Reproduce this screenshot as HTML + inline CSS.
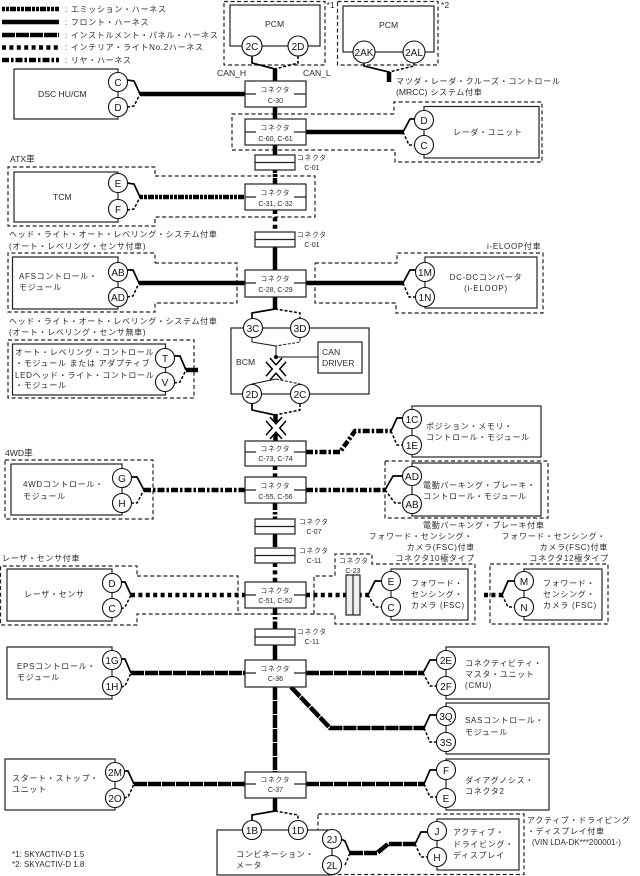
<!DOCTYPE html>
<html><head><meta charset="utf-8">
<style>
html,body{margin:0;padding:0;background:#fff}
svg{display:block}
text{font-family:"Liberation Sans","Noto Sans CJK JP",sans-serif;fill:#2a2a2a;font-size:8px;letter-spacing:.7px}
.l{font-size:8.6px;letter-spacing:0}
.n{font-size:6.6px;letter-spacing:.9px;text-anchor:middle}
.c{font-size:7px;letter-spacing:0;text-anchor:middle}
.p{font-size:10px;letter-spacing:0;text-anchor:middle;fill:#111}
.m{text-anchor:middle}
.e2{text-anchor:end}
.box{fill:#fff;stroke:#222;stroke-width:1.2}
.nf{fill:none;stroke:#222;stroke-width:1.2}
.dash{fill:none;stroke:#222;stroke-width:1.2;stroke-dasharray:4 2.6}
.f,.i,.d,.r,.e{fill:none;stroke:#000;stroke-width:4.5}
.i{stroke-dasharray:13 1}
.d{stroke-dasharray:4 3.4}
.r{stroke-dasharray:7 2 2.5 2}
.e{stroke-dasharray:3 1 3 1 6 1}
.s{fill:none;stroke:#000;stroke-width:1.7}
.sd{fill:none;stroke:#000;stroke-width:1.5;stroke-dasharray:3 1.8}
.t{fill:none;stroke:#111;stroke-width:1}
.td{fill:none;stroke:#111;stroke-width:1;stroke-dasharray:3 1.5}
circle{fill:#fff;stroke:#111;stroke-width:1.1}
.xb{stroke:#000;stroke-width:7;fill:none}
.xw{stroke:#fff;stroke-width:4;fill:none}
</style></head><body>
<svg width="640" height="876" viewBox="0 0 640 876" xmlns="http://www.w3.org/2000/svg">

<!-- dashed outlines -->
<rect class="dash" x="224" y="1.500" width="101" height="63.500"/>
<rect class="dash" x="337.500" y="1.500" width="100.500" height="63.500"/>
<polyline class="dash" points="394,114 232,114 232,150 395,150 395,162 542,162 542,102 394,102 394,114"/>
<polyline class="dash" points="155,176 315,176 315,217 155,217 155,226 8,226 8,167 155,167 155,176"/>
<polyline class="dash" points="155,263 237,263 237,303 155,303 155,312 8,312 8,253 155,253 155,263"/>
<polyline class="dash" points="315,263 397,263 397,253 543,253 543,313 396,313 396,303 315,303 315,263"/>
<rect class="dash" x="8" y="340" width="186" height="58"/>
<rect class="dash" x="5" y="460" width="148" height="59"/>
<rect class="dash" x="385" y="461" width="163" height="57"/>
<polyline class="dash" points="137,576 238,576 238,614 137,614 137,625 0.500,625 0.500,566 137,566 137,576"/>
<polyline class="dash" points="314,614 314,576 335,576 335,554 372,554 372,564 475,564 475,624 335,624 335,614 238,614"/>
<rect class="dash" x="490" y="564" width="118" height="60"/>
<rect class="dash" x="318" y="814" width="206" height="60.500"/>

<!-- solid boxes -->
<rect class="box" x="230" y="5" width="90" height="41"/>
<rect class="box" x="343" y="6" width="91" height="46"/>
<rect class="box" x="14" y="69" width="104" height="50"/>
<rect class="box" x="424" y="106.500" width="115" height="51.500"/>
<rect class="box" x="14" y="172" width="104" height="50"/>
<rect class="box" x="12.500" y="257" width="105.500" height="52"/>
<rect class="box" x="425" y="257" width="112" height="51"/>
<rect class="box" x="12.500" y="344" width="153" height="51"/>
<rect class="box" x="231" y="328" width="138" height="66"/>
<rect class="box" x="318" y="342" width="44" height="31"/>
<rect class="box" x="412" y="406" width="129" height="51"/>
<rect class="box" x="11" y="464" width="111" height="51"/>
<rect class="box" x="412" y="463" width="129" height="53"/>
<rect class="box" x="7" y="569" width="105" height="52"/>
<rect class="box" x="391" y="569" width="77" height="51"/>
<rect class="box" x="524" y="569" width="78" height="51"/>
<rect class="box" x="7" y="647" width="105" height="52"/>
<rect class="box" x="446" y="647" width="103" height="52"/>
<rect class="box" x="446" y="703" width="103" height="51"/>
<rect class="box" x="5" y="759" width="110" height="51"/>
<rect class="box" x="446" y="759" width="103" height="51"/>
<rect class="box" x="217" y="830" width="115" height="45"/>
<rect class="box" x="437" y="819" width="82" height="51"/>

<!-- legend lines -->
<line class="e" x1="2" y1="9" x2="59" y2="9"/>
<line class="f" x1="2" y1="22" x2="59" y2="22"/>
<line class="i" x1="2" y1="35" x2="59" y2="35"/>
<line class="d" x1="2" y1="47.500" x2="59" y2="47.500"/>
<line class="r" x1="2" y1="60" x2="59" y2="60"/>

<!-- spine -->
<line class="f" x1="275" y1="69" x2="275" y2="81"/>
<line class="f" x1="275" y1="107" x2="275" y2="119"/>
<line class="f" x1="275" y1="145" x2="275" y2="155"/>
<line class="e" x1="275" y1="170" x2="275" y2="184"/>
<line class="d" x1="275" y1="210" x2="275" y2="232"/>
<line class="f" x1="275" y1="247" x2="275" y2="270"/>
<line class="f" x1="275" y1="297" x2="275" y2="309"/>
<line class="f" x1="275.500" y1="415" x2="275.500" y2="441"/>
<line class="d" x1="275" y1="466" x2="275" y2="477"/>
<line class="r" x1="275" y1="503" x2="275" y2="519"/>
<line class="i" x1="275" y1="534" x2="275" y2="548"/>
<line class="d" x1="275" y1="563" x2="275" y2="582"/>
<line class="r" x1="275" y1="608" x2="275" y2="629"/>
<line class="f" x1="275" y1="645" x2="275" y2="660"/>
<line class="i" x1="275" y1="687" x2="275" y2="772"/>
<line class="i" x1="275" y1="798" x2="275" y2="811"/>
<line class="f" x1="389" y1="72" x2="389" y2="82"/>

<!-- horizontals -->
<line class="f" x1="140" y1="94" x2="245" y2="94"/>
<line class="f" x1="306" y1="132" x2="403" y2="132"/>
<line class="e" x1="140" y1="197" x2="245" y2="197"/>
<line class="f" x1="139" y1="283" x2="245" y2="283"/>
<line class="f" x1="306" y1="283" x2="403" y2="283"/>
<line class="f" x1="186" y1="370" x2="198" y2="370"/>
<polyline class="r" points="306,452 340,452 355,431 391,431"/>
<line class="r" x1="144" y1="490" x2="245" y2="490"/>
<line class="r" x1="306" y1="490" x2="385" y2="490"/>
<line class="d" x1="131" y1="595" x2="245" y2="595"/>
<line class="d" x1="306" y1="595" x2="368" y2="595"/>
<line class="d" x1="484" y1="595" x2="502" y2="595"/>
<line class="i" x1="131" y1="673" x2="245" y2="673"/>
<line class="i" x1="306" y1="673" x2="423" y2="673"/>
<polyline class="i" points="291,687 330,728 424,728"/>
<line class="i" x1="134" y1="784" x2="245" y2="784"/>
<line class="i" x1="306" y1="784" x2="424" y2="784"/>
<polyline class="i" points="350,853 377,853 388,844 415,844"/>

<!-- stubs -->
<polyline class="s" points="252,55 252,63 275,69"/><polyline class="sd" points="298,56 298,63 275,69"/>
<polyline class="s" points="364,62 364,66 389,72"/><polyline class="sd" points="414,62 414,66 389,72"/>
<polyline class="s" points="127,80 134,81 140,94"/><polyline class="sd" points="127,107 134,106 140,94"/>
<polyline class="s" points="403,132 410,119 415,119"/><polyline class="sd" points="403,132 409,145 415,145"/>
<polyline class="s" points="127,183 134,184 140,197"/><polyline class="sd" points="127,210 134,209 140,197"/>
<polyline class="s" points="127,270 133,270 139,283"/><polyline class="sd" points="127,297 133,296 139,283"/>
<polyline class="s" points="403,283 410,270 416,270"/><polyline class="sd" points="403,283 409,297 416,297"/>
<polyline class="s" points="174,356 180,356 186,370"/><polyline class="sd" points="174,383 180,382 186,370"/>
<polyline class="s" points="275,309 252,313 252,318"/><polyline class="sd" points="275,309 300,313 300,318"/>
<polyline class="t" points="252,338 252,342 276,346"/><polyline class="td" points="300,338 300,342 276,346"/>
<line class="t" x1="276" y1="346" x2="276" y2="358"/>
<line class="t" x1="276" y1="357" x2="318" y2="357"/>
<circle cx="276" cy="357" r="1.500" style="fill:#000"/>
<polyline class="t" points="276,379 252,384 252,385"/><polyline class="td" points="276,379 300,384 300,385"/>
<polyline class="s" points="252,404 252,410 275,415"/><polyline class="sd" points="300,404 300,410 275,415"/>
<polyline class="s" points="391,431 397,418 403,418"/><polyline class="sd" points="391,431 397,445 403,445"/>
<polyline class="s" points="131,477 137,477 144,490"/><polyline class="sd" points="131,503 137,503 144,490"/>
<polyline class="s" points="385,490 393,476 402,476"/><polyline class="sd" points="385,490 395,503 402,503"/>
<polyline class="s" points="121,582 125,582 131,595"/><polyline class="sd" points="121,609 125,607 131,595"/>
<polyline class="s" points="368,595 375,581 382,581"/><polyline class="sd" points="368,595 375,607 382,607"/>
<polyline class="s" points="502,595 508,581 515,581"/><polyline class="sd" points="502,595 508,607 515,607"/>
<polyline class="s" points="121,659 125,659 131,673"/><polyline class="sd" points="121,687 125,686 131,673"/>
<polyline class="s" points="423,673 430,660 437,660"/><polyline class="sd" points="423,673 430,686 437,686"/>
<polyline class="s" points="424,728 430,715 437,715"/><polyline class="sd" points="424,728 430,742 437,742"/>
<polyline class="s" points="124,771 128,771 134,784"/><polyline class="sd" points="124,798 128,797 134,784"/>
<polyline class="s" points="424,784 430,770 437,770"/><polyline class="sd" points="424,784 430,797 437,797"/>
<polyline class="s" points="275,811 252,815 252,821"/><polyline class="sd" points="275,811 298,815 298,821"/>
<polyline class="s" points="341,839 345,841 350,853"/><polyline class="sd" points="345,865 350,853"/>
<polyline class="s" points="415,844 421,832 427,832"/><polyline class="sd" points="415,844 421,857 427,857"/>

<!-- X marks -->
<path class="xb" d="M268,360 L284,378 M284,360 L268,378"/><path class="xw" d="M268,360 L284,378 M284,360 L268,378"/>
<path class="xb" d="M268,419 L284,437 M284,419 L268,437"/><path class="xw" d="M268,419 L284,437 M284,419 L268,437"/>

<!-- connector boxes -->
<g>
<rect class="box" x="245" y="81" width="61" height="26"/><path class="nf" d="M245,94h11M294,94h12"/>
<rect class="box" x="245" y="119" width="61" height="26"/><path class="nf" d="M245,132h11M294,132h12"/>
<rect class="box" x="245" y="184" width="61" height="26"/><path class="nf" d="M245,197h11M294,197h12"/>
<rect class="box" x="245" y="270" width="61" height="27"/><path class="nf" d="M245,283h11M294,283h12"/>
<rect class="box" x="245" y="441" width="61" height="25"/><path class="nf" d="M245,452h11M294,452h12"/>
<rect class="box" x="245" y="477" width="61" height="26"/><path class="nf" d="M245,490h11M294,490h12"/>
<rect class="box" x="245" y="582" width="61" height="26"/><path class="nf" d="M245,595h11M294,595h12"/>
<rect class="box" x="245" y="660" width="61" height="27"/><path class="nf" d="M245,673h11M294,673h12"/>
<rect class="box" x="245" y="772" width="61" height="26"/><path class="nf" d="M245,784h11M294,784h12"/>
</g>
<rect class="box" x="255" y="155" width="40" height="15"/><line class="nf" x1="255" y1="162.500" x2="295" y2="162.500"/>
<rect class="box" x="255" y="232" width="40" height="15"/><line class="nf" x1="255" y1="239.500" x2="295" y2="239.500"/>
<rect class="box" x="255" y="519" width="40" height="15"/><line class="nf" x1="255" y1="526.500" x2="295" y2="526.500"/>
<rect class="box" x="255" y="548" width="40" height="15"/><line class="nf" x1="255" y1="555.500" x2="295" y2="555.500"/>
<rect class="box" x="255" y="629" width="40" height="16"/><line class="nf" x1="255" y1="637" x2="295" y2="637"/>
<rect class="box" x="346" y="575" width="14" height="40" style="fill:#eee"/><line class="nf" x1="353" y1="575" x2="353" y2="615"/>

<!-- pins -->
<circle cx="252" cy="46" r="10"/><text class="p" x="252" y="50">2C</text>
<circle cx="298" cy="46" r="10"/><text class="p" x="298" y="50">2D</text>
<circle cx="364" cy="52" r="11"/><text class="p" x="364" y="56">2AK</text>
<circle cx="414" cy="52" r="11"/><text class="p" x="414" y="56">2AL</text>
<circle cx="118" cy="82" r="9.500"/><text class="p" x="118" y="86">C</text>
<circle cx="118" cy="107" r="9.500"/><text class="p" x="118" y="111">D</text>
<circle cx="424" cy="120" r="9.500"/><text class="p" x="424" y="124">D</text>
<circle cx="424" cy="145" r="9.500"/><text class="p" x="424" y="149">C</text>
<circle cx="118" cy="183" r="9.500"/><text class="p" x="118" y="187">E</text>
<circle cx="118" cy="209" r="9.500"/><text class="p" x="118" y="213">F</text>
<circle cx="118" cy="272" r="9.500"/><text class="p" x="118" y="276">AB</text>
<circle cx="118" cy="297" r="9.500"/><text class="p" x="118" y="301">AD</text>
<circle cx="425" cy="272" r="9.500"/><text class="p" x="425" y="276">1M</text>
<circle cx="425" cy="297" r="9.500"/><text class="p" x="425" y="301">1N</text>
<circle cx="165" cy="358" r="9.500"/><text class="p" x="165" y="362">T</text>
<circle cx="165" cy="382" r="9.500"/><text class="p" x="165" y="386">V</text>
<circle cx="253" cy="328" r="9.500"/><text class="p" x="253" y="332">3C</text>
<circle cx="300" cy="328" r="9.500"/><text class="p" x="300" y="332">3D</text>
<circle cx="252" cy="394" r="9.500"/><text class="p" x="252" y="398">2D</text>
<circle cx="300" cy="394" r="9.500"/><text class="p" x="300" y="398">2C</text>
<circle cx="412" cy="419" r="9.500"/><text class="p" x="412" y="423">1C</text>
<circle cx="412" cy="445" r="9.500"/><text class="p" x="412" y="449">1E</text>
<circle cx="122" cy="478" r="9.500"/><text class="p" x="122" y="482">G</text>
<circle cx="122" cy="503" r="9.500"/><text class="p" x="122" y="507">H</text>
<circle cx="412" cy="476" r="9.500"/><text class="p" x="412" y="480">AD</text>
<circle cx="412" cy="504" r="9.500"/><text class="p" x="412" y="508">AB</text>
<circle cx="112" cy="583" r="9.500"/><text class="p" x="112" y="587">D</text>
<circle cx="112" cy="608" r="9.500"/><text class="p" x="112" y="612">C</text>
<circle cx="391" cy="581" r="9.500"/><text class="p" x="391" y="585">E</text>
<circle cx="391" cy="607" r="9.500"/><text class="p" x="391" y="611">C</text>
<circle cx="524" cy="581" r="9.500"/><text class="p" x="524" y="585">M</text>
<circle cx="524" cy="607" r="9.500"/><text class="p" x="524" y="611">N</text>
<circle cx="112" cy="660" r="9.500"/><text class="p" x="112" y="664">1G</text>
<circle cx="112" cy="686" r="9.500"/><text class="p" x="112" y="690">1H</text>
<circle cx="446" cy="660" r="9.500"/><text class="p" x="446" y="664">2E</text>
<circle cx="446" cy="686" r="9.500"/><text class="p" x="446" y="690">2F</text>
<circle cx="446" cy="716" r="9.500"/><text class="p" x="446" y="720">3Q</text>
<circle cx="446" cy="742" r="9.500"/><text class="p" x="446" y="746">3S</text>
<circle cx="115" cy="772" r="9.500"/><text class="p" x="115" y="776">2M</text>
<circle cx="115" cy="798" r="9.500"/><text class="p" x="115" y="802">2O</text>
<circle cx="446" cy="770" r="9.500"/><text class="p" x="446" y="774">F</text>
<circle cx="446" cy="798" r="9.500"/><text class="p" x="446" y="802">E</text>
<circle cx="252" cy="830" r="9.500"/><text class="p" x="252" y="834">1B</text>
<circle cx="298" cy="830" r="9.500"/><text class="p" x="298" y="834">1D</text>
<circle cx="332" cy="839" r="9.500"/><text class="p" x="332" y="843">2J</text>
<circle cx="332" cy="865" r="9.500"/><text class="p" x="332" y="869">2L</text>
<circle cx="437" cy="831" r="9.500"/><text class="p" x="437" y="835">J</text>
<circle cx="437" cy="857" r="9.500"/><text class="p" x="437" y="861">H</text>

<!-- connector labels -->
<text class="n" x="275.500" y="92">コネクタ</text><text class="c" x="275.500" y="103">C-30</text>
<text class="n" x="275.500" y="130">コネクタ</text><text class="c" x="275.500" y="141">C-60, C-61</text>
<text class="n" x="275.500" y="195">コネクタ</text><text class="c" x="275.500" y="206">C-31, C-32</text>
<text class="n" x="275.500" y="281">コネクタ</text><text class="c" x="275.500" y="292">C-28, C-29</text>
<text class="n" x="275.500" y="451">コネクタ</text><text class="c" x="275.500" y="461">C-73, C-74</text>
<text class="n" x="275.500" y="488">コネクタ</text><text class="c" x="275.500" y="499">C-55, C-56</text>
<text class="n" x="275.500" y="593">コネクタ</text><text class="c" x="275.500" y="603">C-51, C-52</text>
<text class="n" x="275.500" y="671">コネクタ</text><text class="c" x="275.500" y="681">C-36</text>
<text class="n" x="275.500" y="782">コネクタ</text><text class="c" x="275.500" y="792">C-37</text>
<text class="n" x="312" y="160">コネクタ</text><text class="c" x="312" y="170">C-01</text>
<text class="n" x="312" y="237">コネクタ</text><text class="c" x="312" y="247">C-01</text>
<text class="n" x="314" y="524">コネクタ</text><text class="c" x="314" y="534">C-07</text>
<text class="n" x="314" y="553">コネクタ</text><text class="c" x="314" y="563">C-11</text>
<text class="n" x="312" y="634">コネクタ</text><text class="c" x="312" y="644">C-11</text>
<text class="n" x="354" y="563">コネクタ</text><text class="c" x="353" y="573">C-23</text>

<!-- legend text -->
<text x="65" y="12">: エミッション・ハーネス</text>
<text x="65" y="25">: フロント・ハーネス</text>
<text x="65" y="38">: インストルメント・パネル・ハーネス</text>
<text x="65" y="50">: インテリア・ライトNo.2ハーネス</text>
<text x="65" y="63">: リヤ・ハーネス</text>

<!-- other labels -->
<text class="l" x="265" y="27">PCM</text>
<text class="l" x="379" y="28">PCM</text>
<text class="l" x="326.500" y="8">*1</text>
<text class="l" x="441" y="8">*2</text>
<text class="l" x="217" y="76">CAN_H</text>
<text class="l" x="303" y="76">CAN_L</text>
<text x="396" y="84">マツダ・レーダ・クルーズ・コントロール</text>
<text x="396" y="95"><tspan class="l">(MRCC)</tspan> システム付車</text>
<text class="l" x="38" y="97">DSC HU/CM</text>
<text x="453" y="135">レーダ・ユニット</text>
<text class="l" x="10" y="162">ATX車</text>
<text class="l" x="53" y="200">TCM</text>
<text x="9" y="237">ヘッド・ライト・オート・レベリング・システム付車</text>
<text x="9" y="249">(オート・レベリング・センサ付車)</text>
<text x="19" y="279">AFSコントロール・</text>
<text x="19" y="290">モジュール</text>
<text x="487" y="249">i-ELOOP付車</text>
<text class="m" x="486" y="280">DC-DCコンバータ</text>
<text class="m" x="486" y="291">(i-ELOOP)</text>
<text x="9" y="324">ヘッド・ライト・オート・レベリング・システム付車</text>
<text x="9" y="335">(オート・レベリング・センサ無車)</text>
<text x="15" y="355">オート・レベリング・コントロール</text>
<text x="15" y="366">・モジュール または アダプティブ</text>
<text x="15" y="378">LEDヘッド・ライト・コントロール</text>
<text x="15" y="388">・モジュール</text>
<text class="l" x="236" y="365">BCM</text>
<text class="l" x="322" y="355">CAN</text>
<text class="l" x="322" y="366">DRIVER</text>
<text x="426" y="429">ポジション・メモリ・</text>
<text x="426" y="440">コントロール・モジュール</text>
<text class="l" x="5" y="456">4WD車</text>
<text x="23" y="487">4WDコントロール・</text>
<text x="23" y="499">モジュール</text>
<text x="423" y="488">電動パーキング・ブレーキ・</text>
<text x="423" y="499">コントロール・モジュール</text>
<text x="423" y="528">電動パーキング・ブレーキ付車</text>
<text class="e2" x="473" y="539">フォワード・センシング・</text>
<text class="e2" x="475" y="550">カメラ(FSC)付車</text>
<text class="e2" x="475" y="561">コネクタ10極タイプ</text>
<text class="e2" x="606" y="539">フォワード・センシング・</text>
<text class="e2" x="608" y="550">カメラ(FSC)付車</text>
<text class="e2" x="609" y="561">コネクタ12極タイプ</text>
<text x="2" y="561">レーザ・センサ付車</text>
<text x="24" y="597">レーザ・センサ</text>
<text x="411" y="586">フォワード・</text>
<text x="411" y="597">センシング・</text>
<text x="411" y="608">カメラ (FSC)</text>
<text x="543" y="586">フォワード・</text>
<text x="543" y="597">センシング・</text>
<text x="543" y="608">カメラ (FSC)</text>
<text x="17" y="669">EPSコントロール・</text>
<text x="17" y="680">モジュール</text>
<text x="465" y="666">コネクティビティ・</text>
<text x="465" y="677">マスタ・ユニット</text>
<text x="465" y="688">(CMU)</text>
<text x="465" y="723">SASコントロール・</text>
<text x="465" y="735">モジュール</text>
<text x="12" y="781">スタート・ストップ・</text>
<text x="12" y="792">ユニット</text>
<text x="465" y="783">ダイアグノシス・</text>
<text x="465" y="794">コネクタ2</text>
<text x="236" y="857">コンビネーション・</text>
<text x="236" y="868">メータ</text>
<text x="453" y="835">アクティブ・</text>
<text x="453" y="847">ドライビング・</text>
<text x="453" y="858">ディスプレイ</text>
<text x="527" y="823">アクティブ・ドライビング</text>
<text x="527" y="834">・ディスプレイ付車</text>
<text class="l" x="532" y="845" style="font-size:8px">(VIN LDA-DK***200001-)</text>
<text class="l" x="12" y="857" style="font-size:8px">*1: SKYACTIV-D 1.5</text>
<text class="l" x="12" y="867" style="font-size:8px">*2: SKYACTIV-D 1.8</text>
</svg>
</body></html>
